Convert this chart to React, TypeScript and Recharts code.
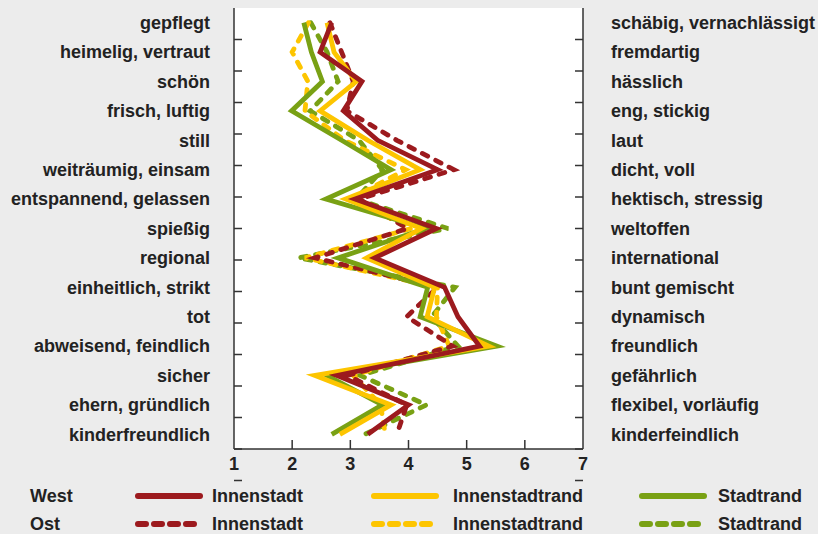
import React from 'react';
import { LineChart, Line, XAxis, YAxis, CartesianGrid } from 'recharts';

// left-hand adjectives, top to bottom
const leftLabels = [
  'gepflegt',
  'heimelig, vertraut',
  'schön',
  'frisch, luftig',
  'still',
  'weiträumig, einsam',
  'entspannend, gelassen',
  'spießig',
  'regional',
  'einheitlich, strikt',
  'tot',
  'abweisend, feindlich',
  'sicher',
  'ehern, gründlich',
  'kinderfreundlich',
];

const rightLabels = [
  'schäbig, vernachlässigt',
  'fremdartig',
  'hässlich',
  'eng, stickig',
  'laut',
  'dicht, voll',
  'hektisch, stressig',
  'weltoffen',
  'international',
  'bunt gemischt',
  'dynamisch',
  'freundlich',
  'gefährlich',
  'flexibel, vorläufig',
  'kinderfeindlich',
];

const westInnenstadt = [2.68, 2.48, 3.2, 2.88, 3.47, 4.5, 3.08, 4.48, 3.42, 4.62, 4.85, 5.22, 2.77, 4.0, 3.3];
const ostInnenstadt = [2.65, 2.85, 3.05, 2.94, 3.8, 4.78, 3.15, 3.98, 2.39, 4.5, 3.97, 4.76, 2.95, 3.97, 3.8];
const westInnenstadtrand = [2.6, 2.72, 3.1, 2.48, 3.3, 4.2, 2.92, 4.22, 3.28, 4.45, 4.32, 5.38, 2.39, 3.7, 2.82];
const ostInnenstadtrand = [2.28, 2.0, 2.27, 2.22, 2.9, 3.95, 3.0, 4.05, 2.22, 4.5, 4.48, 4.7, 3.05, 3.52, 3.6];
const westStadtrand = [2.2, 2.33, 2.52, 1.99, 2.85, 3.7, 2.58, 4.3, 2.79, 4.33, 4.2, 5.52, 2.6, 3.55, 2.68];
const ostStadtrand = [2.32, 2.6, 2.79, 2.31, 3.15, 3.55, 3.1, 4.68, 2.11, 4.8, 4.4, 4.85, 3.17, 4.31, 3.25];

const scaleTicks = [1, 2, 3, 4, 5, 6, 7];
const innerXTicks = [2, 3, 4, 5, 6];
const bandTicks = [0, 1, 2, 3, 4, 5, 6, 7, 8, 9, 10, 11, 12, 13, 14, 15];

const RED = '#9c1a1e';
const YELLOW = '#fdc500';
const GREEN = '#79a114';
const TEXT = '#222222';
const FONT = '"Liberation Sans", Arial, sans-serif';

const data = leftLabels.map((left, i) => ({
  left,
  right: rightLabels[i],
  wi: westInnenstadt[i],
  oi: ostInnenstadt[i],
  wr: westInnenstadtrand[i],
  or: ostInnenstadtrand[i],
  ws: westStadtrand[i],
  os: ostStadtrand[i],
}));

const tickFont = { fontSize: 18, fontWeight: 700, fill: TEXT, fontFamily: FONT };
const noLabel = () => <g />;

const LegendLine = ({ color, dashed }) => (
  <svg width={70} height={12} style={{ display: 'block' }}>
    <line
      x1={4}
      y1={6}
      x2={66}
      y2={6}
      stroke={color}
      strokeWidth={6}
      strokeLinecap="round"
      strokeDasharray={dashed ? '8 8' : undefined}
    />
  </svg>
);

const legendRows = [
  { label: 'West', dashed: false, top: 484 },
  { label: 'Ost', dashed: true, top: 512 },
];
const legendItems = [
  { name: 'Innenstadt', color: RED, lineX: 134, textX: 212 },
  { name: 'Innenstadtrand', color: YELLOW, lineX: 370, textX: 453 },
  { name: 'Stadtrand', color: GREEN, lineX: 638, textX: 718 },
];

const axisStroke = { stroke: '#333', strokeWidth: 1.5 };
const lineW = 4.8;

export default function App() {
  return (
    <div
      style={{
        position: 'fixed',
        left: 0,
        top: 0,
        width: 818,
        height: 534,
        background: '#ececec',
        fontFamily: FONT,
        overflow: 'hidden',
      }}
    >
      <LineChart
        width={818}
        height={534}
        data={data}
        layout="vertical"
        margin={{ top: 8, right: 10, left: 10, bottom: 55 }}
        style={{ fontFamily: FONT }}
      >
        <CartesianGrid fill="#ffffff" horizontal={false} vertical={false} xAxisId="x" yAxisId="left" />
        <XAxis
          xAxisId="x"
          type="number"
          domain={[1, 7]}
          ticks={scaleTicks}
          allowDataOverflow
          axisLine={false}
          tickLine={false}
          tickSize={0}
          tickMargin={8}
          tick={tickFont}
        />
        <XAxis
          xAxisId="xt"
          type="number"
          domain={[1, 7]}
          ticks={innerXTicks}
          allowDataOverflow
          mirror
          tick={noLabel}
          tickSize={9}
          axisLine={axisStroke}
          tickLine={axisStroke}
        />
        <YAxis
          yAxisId="left"
          type="category"
          dataKey="left"
          orientation="left"
          width={224}
          padding={{ top: 14.7, bottom: 14.7 }}
          axisLine={false}
          tickLine={false}
          tickSize={0}
          tickMargin={24}
          interval={0}
          tick={tickFont}
        />
        <YAxis
          yAxisId="right"
          type="category"
          dataKey="right"
          orientation="right"
          width={225}
          padding={{ top: 14.7, bottom: 14.7 }}
          axisLine={false}
          tickLine={false}
          tickSize={0}
          tickMargin={28}
          interval={0}
          tick={tickFont}
        />
        <YAxis
          yAxisId="tl"
          type="number"
          orientation="left"
          domain={[0, 15]}
          ticks={bandTicks}
          allowDataOverflow
          mirror
          tick={noLabel}
          tickSize={8}
          axisLine={axisStroke}
          tickLine={axisStroke}
        />
        <YAxis
          yAxisId="tr"
          type="number"
          orientation="right"
          domain={[0, 15]}
          ticks={bandTicks}
          allowDataOverflow
          mirror
          tick={noLabel}
          tickSize={8}
          axisLine={axisStroke}
          tickLine={axisStroke}
        />
        <Line xAxisId="x" yAxisId="left" dataKey="os" stroke={GREEN} strokeWidth={lineW} strokeDasharray="6 9" strokeLinecap="round" dot={false} isAnimationActive={false} />
        <Line xAxisId="x" yAxisId="left" dataKey="or" stroke={YELLOW} strokeWidth={lineW} strokeDasharray="6 9" strokeLinecap="round" dot={false} isAnimationActive={false} />
        <Line xAxisId="x" yAxisId="left" dataKey="oi" stroke={RED} strokeWidth={lineW} strokeDasharray="6 9" strokeLinecap="round" dot={false} isAnimationActive={false} />
        <Line xAxisId="x" yAxisId="left" dataKey="ws" stroke={GREEN} strokeWidth={lineW} dot={false} isAnimationActive={false} />
        <Line xAxisId="x" yAxisId="left" dataKey="wr" stroke={YELLOW} strokeWidth={lineW} dot={false} isAnimationActive={false} />
        <Line xAxisId="x" yAxisId="left" dataKey="wi" stroke={RED} strokeWidth={lineW} dot={false} isAnimationActive={false} />
      </LineChart>

      {legendRows.map((row) => (
        <React.Fragment key={row.label}>
          <div style={{ position: 'absolute', left: 30, top: row.top, fontSize: 18, fontWeight: 700, color: TEXT, lineHeight: '24px' }}>
            {row.label}
          </div>
          {legendItems.map((item) => (
            <React.Fragment key={item.name}>
              <div style={{ position: 'absolute', left: item.lineX, top: row.top + 6 }}>
                <LegendLine color={item.color} dashed={row.dashed} />
              </div>
              <div style={{ position: 'absolute', left: item.textX, top: row.top, fontSize: 18, fontWeight: 700, color: TEXT, lineHeight: '24px' }}>
                {item.name}
              </div>
            </React.Fragment>
          ))}
        </React.Fragment>
      ))}
    </div>
  );
}
